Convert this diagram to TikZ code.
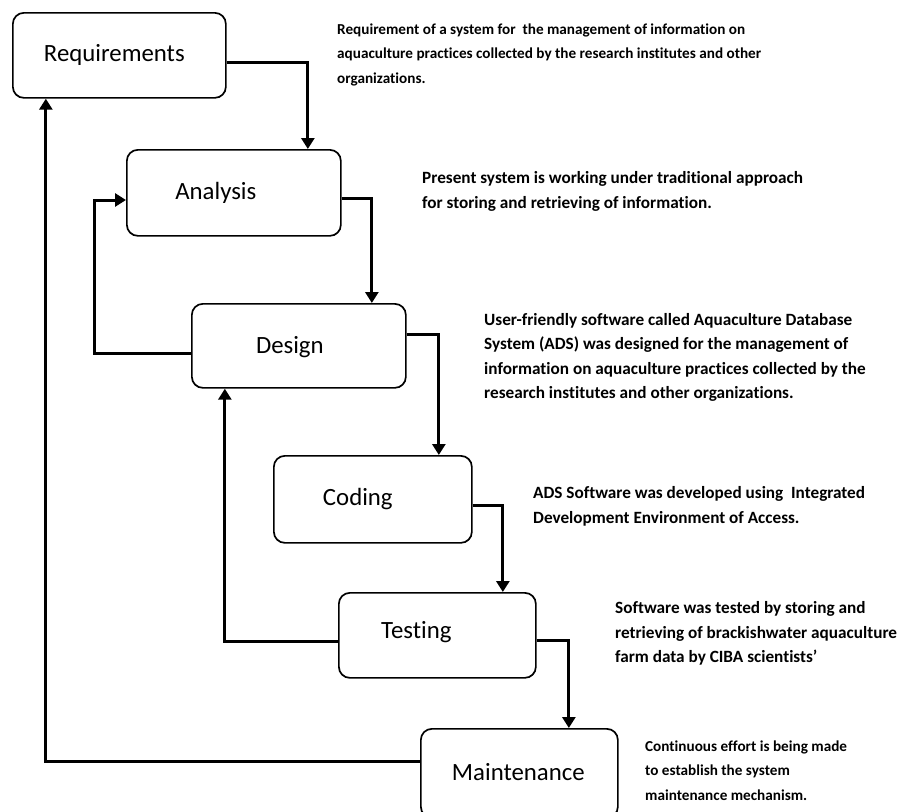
\documentclass[tikz,border=0pt]{standalone}
\usepackage{fontspec}
\setmainfont{Carlito}[Ligatures={TeX,NoCommon}]
\usetikzlibrary{arrows.meta,calc}
\tikzset{
  stagebox/.style={draw=black, line width=1.7pt, rounded corners=11pt, anchor=north west, inner sep=0pt},
  stagelbl/.style={font=\fontsize{24.8}{28}\selectfont, inner sep=0pt},
  conn/.style={draw=black, line width=3pt, -{Triangle[width=13pt,length=11pt]}},
  desc/.style={align=left, anchor=north west, inner sep=0pt},
  descsmall/.style={desc, font=\bfseries\fontsize{15.2}{24.5}\selectfont},
  descbig/.style={desc, font=\bfseries\fontsize{17.2}{24.5}\selectfont},
}
\begin{document}
\begin{tikzpicture}[x=1pt,y=-1pt]
\clip (0,0) rectangle (902,811);
\fill[white] (0,0) rectangle (902,811);
% boxes
\node[stagebox, minimum width=213pt, minimum height=85pt] (req) at (12,12) {};
\node[stagebox, minimum width=214pt, minimum height=86pt] (ana) at (126,149) {};
\node[stagebox, minimum width=214pt, minimum height=84pt] (des) at (191,303) {};
\node[stagebox, minimum width=198pt, minimum height=87pt] (cod) at (273,455) {};
\node[stagebox, minimum width=197pt, minimum height=85pt] (tes) at (338,592) {};
\node[stagebox, minimum width=197pt, minimum height=89pt] (mai) at (420,728) {};
% labels
\node[stagelbl] (reqlbl) at ([xshift=-5pt]req.center) {Requirements};
\node[stagelbl] (analbl) at ([xshift=-18pt]ana.center) {Analysis};
\node[stagelbl] (deslbl) at ([xshift=-9pt,yshift=-1pt]des.center) {Design};
\node[stagelbl] (codlbl) at ([xshift=-15pt]cod.center) {Coding};
\node[stagelbl] (teslbl) at ([xshift=-21pt,yshift=3pt]tes.center) {Testing};
\node[stagelbl] (mailbl) at ([xshift=-1pt,yshift=1pt]mai.center) {Maintenance};
% forward connectors
\draw[conn] ([yshift=-7.5pt]req.east) -| ([xshift=74pt]ana.north);
\draw[conn] ([yshift=-6pt]ana.east) -| ([xshift=73pt]des.north);
\draw[conn] ([yshift=11pt]des.east) -| ([xshift=66pt]cod.north);
\draw[conn] ([yshift=-6.5pt]cod.east) -| ([xshift=65.5pt]tes.north);
\draw[conn] ([yshift=-5.5pt]tes.east) -| ([xshift=49.5pt]mai.north);
% feedback connectors
\coordinate (fbana) at (94,200);
\draw[conn] ([yshift=-8pt]des.west) -| (fbana) -- (fbana -| ana.west);
\draw[conn] ([yshift=-6.5pt]tes.west) -| ([xshift=-74pt]des.south);
\draw[conn] ([yshift=12pt]mai.west) -| ([xshift=-73.5pt]req.south);
% descriptions
\node[descsmall] (d1) at (337,23.5) {Requirement of a system for \ the management of information on\\aquaculture practices collected by the research institutes and other\\organizations.};
\node[descbig] (d2) at (422,171.5) {Present system is working under traditional approach\\for storing and retrieving of information.};
\node[descbig] (d3) at (484,313) {User-friendly software called Aquaculture Database\\System (ADS) was designed for the management of\\information on aquaculture practices collected by the\\research institutes and other organizations.};
\node[descbig] (d4) at (533,486.5) {ADS Software was developed using \ Integrated\\Development Environment of Access.};
\node[descbig] (d5) at (615,601.5) {Software was tested by storing and\\retrieving of brackishwater aquaculture\\farm data by CIBA scientists\char"0027};
\node[descsmall] (d6) at (645,740.5) {Continuous effort is being made\\to establish the system\\maintenance mechanism.};
\end{tikzpicture}
\end{document}
